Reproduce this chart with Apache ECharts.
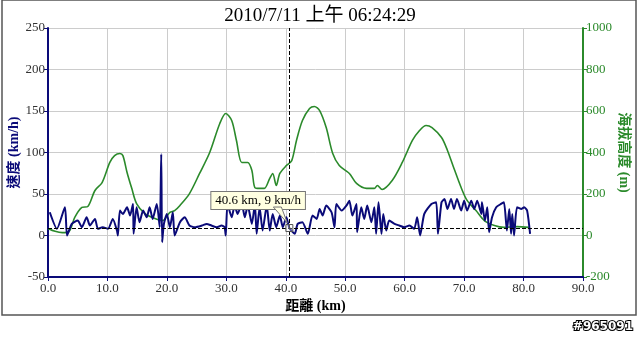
<!DOCTYPE html>
<html>
<head>
<meta charset="utf-8">
<script src="https://cdn.jsdelivr.net/npm/echarts@6/dist/echarts.min.js"></script>
<style>
    html, body { margin: 0; padding: 0; background: #fff; }
    #chart { width: 640px; height: 338px; }
</style>
</head>
<body>
<div id="chart"></div>
<script>
// 距離 (km) / 速度 (km/h)
var speedKm = [0.3, 1.5, 2.85, 3.2, 4.0, 5.0, 5.7, 6.5, 7.05, 7.9, 8.4, 9.2, 10.1, 10.9, 11.6, 11.75, 12.1, 12.6, 13.3, 13.8,
    14.3, 14.4, 14.9, 15.4, 16.0, 16.6, 17.1, 17.6, 18.3, 18.8, 19.05, 19.2, 19.5, 20.0, 20.5, 21.0, 21.3, 22.2, 23.0, 23.8,
    24.7, 25.9, 26.7, 27.5, 28.4, 29.2, 29.7, 29.9, 30.2, 30.9, 31.4, 31.9, 32.6, 33.1, 33.6, 34.3, 34.8, 35.1, 35.6, 36.1,
    36.8, 37.3, 37.8, 38.4, 39.0, 39.5, 40.1, 40.6, 41.5, 42.0, 42.8, 43.7, 44.5, 45.2, 45.7, 46.2, 46.8, 47.7, 48.2, 48.5,
    49.4, 50.2, 50.7, 51.2, 51.9, 52.0, 52.7, 53.2, 53.7, 54.4, 54.9, 55.2, 55.6, 56.1, 56.4, 56.9, 57.4, 58.3, 59.1, 59.9,
    60.8, 61.6, 62.1, 62.6, 63.3, 64.5, 65.3, 65.6, 66.2, 66.7, 67.2, 67.8, 68.3, 68.8, 69.5, 70.0, 70.5, 71.2, 71.7, 72.2,
    72.9, 73.0, 73.5, 73.9, 74.2, 74.7, 75.4, 76.2, 76.7, 77.2, 77.6, 77.9, 78.1, 78.4, 78.9, 79.6, 80.1, 80.6, 81.1];
var speedVal = [28, 8, 34, 0, 14, 18, 10, 22, 12, 20, 8, 10, 8, 20, 6, 0, 30, 26, 34, 24,
    38, 2, 34, 16, 30, 22, 34, 20, 38, 10, 98, -8, 14, 26, 10, 28, 0, 16, 22, 12,
    10, 12, 14, 12, 10, 12, 10, 0, 38, 22, 36, 26, 38, 22, 36, 14, 38, 2, 34, 6,
    36, 6, 26, 10, 24, 10, 22, 9, 2, 14, 16, 2, 24, 20, 32, 24, 36, 28, 10, 38,
    30, 36, 42, 24, 38, 4, 34, 20, 36, 16, 34, 2, 40, 2, 26, 6, 18, 14, 12, 10,
    12, 8, 22, 0, 26, 38, 40, 2, 40, 44, 32, 44, 32, 44, 30, 42, 30, 42, 32, 42,
    26, 40, 18, 34, 4, 22, 34, 38, 40, 6, 32, 2, 26, 0, 34, 32, 34, 30, 2];

// 距離 (km) / 海拔高度 (m)
var elevKm = [0.0, 1.2, 2.4, 3.5, 4.5, 5.7, 6.7, 7.9, 9.1, 10.4, 11.2, 12.1, 12.6, 13.3, 14.1, 14.9, 16.3, 18.0, 19.3, 20.5,
    21.3, 22.2, 23.8, 25.5, 27.2, 28.9, 29.9, 30.9, 31.7, 32.6, 33.6, 34.3, 34.8, 35.6, 36.4, 37.3, 37.8, 38.4, 39.0, 40.1,
    41.0, 41.8, 42.8, 44.0, 44.8, 45.7, 46.8, 47.9, 49.0, 50.7, 51.9, 53.6, 54.9, 55.4, 56.2, 57.9, 59.6, 61.3, 62.5, 63.6,
    64.6, 66.2, 67.2, 68.3, 69.5, 70.5, 72.0, 73.4, 75.1, 76.7, 78.9, 80.9];
var elevVal = [34, 20, 14, 18, 87, 135, 140, 217, 255, 352, 385, 395, 385, 304, 226, 154, 106, 82, 72, 111,
    120, 145, 202, 299, 400, 540, 588, 554, 458, 352, 352, 313, 231, 227, 227, 275, 299, 241, 299, 337,
    361, 458, 554, 612, 622, 602, 520, 395, 337, 299, 251, 227, 227, 241, 222, 265, 352, 458, 506, 530,
    520, 472, 410, 323, 231, 169, 120, 72, 48, 39, 43, 39];

var cursorKm = 40.6;
var cursorSpeed = 9;
var titleText = '2010/7/11 上午 06:24:29';

function zip(xs, ys) {
    var out = [];
    for (var i = 0; i < xs.length; i++) {
        out.push([xs[i], ys[i]]);
    }
    return out;
}

var serif = '"Liberation Serif", "DejaVu Serif", "Noto Sans CJK TC", serif';
var navy = '#0a0a78';
var green = '#2b8a2b';

var myChart = echarts.init(document.getElementById('chart'));
var option = {
    animation: false,
    backgroundColor: '#fff',
    title: {
        text: titleText,
        left: 'center',
        top: 2,
        textStyle: { fontFamily: serif, fontSize: 19, fontWeight: 'normal', color: '#000' }
    },
    grid: { left: 48, right: 57, top: 28, bottom: 61, containLabel: false, outerBoundsMode: 'none' },
    xAxis: {
        type: 'value',
        min: 0,
        max: 90,
        interval: 10,
        name: '距離 (km)',
        nameLocation: 'middle',
        nameGap: 22,
        nameMoveOverlap: false,
        nameTextStyle: { fontFamily: serif, fontSize: 14, fontWeight: 'bold', color: '#000' },
        axisLine: { onZero: false, lineStyle: { color: navy, width: 2 } },
        axisTick: { show: true, length: 4, lineStyle: { color: navy } },
        axisLabel: {
            fontFamily: serif, fontSize: 13, color: '#333', margin: 5,
            formatter: function (v) { return v.toFixed(1); }
        },
        splitLine: { show: true, lineStyle: { color: '#cccccc' } }
    },
    yAxis: [
        {
            type: 'value',
            min: -50,
            max: 250,
            interval: 50,
            name: '速度 (km/h)',
            nameLocation: 'middle',
            nameGap: 27,
            nameRotate: 90,
            nameMoveOverlap: false,
            nameTextStyle: { fontFamily: serif, fontSize: 14, fontWeight: 'bold', color: navy },
            axisLine: { show: true, onZero: false, lineStyle: { color: navy, width: 2 } },
            axisTick: { show: true, length: 4, lineStyle: { color: navy } },
            axisLabel: { fontFamily: serif, fontSize: 13, color: '#333', margin: 3 },
            splitLine: { show: true, lineStyle: { color: '#cccccc' } }
        },
        {
            type: 'value',
            min: -200,
            max: 1000,
            interval: 200,
            position: 'right',
            name: '海拔高度 (m)',
            nameLocation: 'middle',
            nameGap: 34,
            nameRotate: -90,
            nameMoveOverlap: false,
            nameTextStyle: { fontFamily: serif, fontSize: 14, fontWeight: 'bold', color: green },
            axisLine: { show: true, onZero: false, lineStyle: { color: green, width: 2 } },
            axisTick: { show: true, length: 4, lineStyle: { color: green } },
            axisLabel: {
                fontFamily: serif, fontSize: 13, color: green, margin: 3,
                formatter: function (v) { return String(v); }
            },
            splitLine: { show: false }
        }
    ],
    series: [
        {
            name: '海拔高度',
            type: 'line',
            yAxisIndex: 1,
            data: zip(elevKm, elevVal),
            smooth: 0.3,
            showSymbol: false,
            lineStyle: { color: green, width: 1.6 },
            z: 2
        },
        {
            name: '速度',
            type: 'line',
            yAxisIndex: 0,
            data: zip(speedKm, speedVal),
            smooth: 0.2,
            showSymbol: false,
            lineStyle: { color: navy, width: 2 },
            z: 3,
            markLine: {
                silent: true,
                symbol: 'none',
                label: { show: false },
                lineStyle: { color: '#000', type: 'dashed', width: 1 },
                data: [{ xAxis: cursorKm }, { yAxis: cursorSpeed }]
            },
            markPoint: {
                silent: true,
                symbol: 'rect',
                symbolSize: 7,
                itemStyle: { color: 'rgba(255,255,255,0.3)', borderColor: '#555', borderWidth: 1 },
                label: {
                    show: true,
                    position: [-74, -32],
                    formatter: cursorKm + ' km, ' + cursorSpeed + ' km/h',
                    fontFamily: serif,
                    fontSize: 13,
                    color: '#000',
                    backgroundColor: '#ffffe1',
                    borderColor: '#777',
                    borderWidth: 1,
                    padding: [2, 4]
                },
                data: [{ coord: [cursorKm, cursorSpeed] }]
            }
        }
    ],
    graphic: [
        {
            id: 'frame',
            type: 'rect',
            shape: { x: 2, y: 0, width: 634, height: 315 },
            style: { fill: 'none', stroke: '#555', lineWidth: 1.5 },
            silent: true
        },
        {
            id: 'stamp',
            type: 'text',
            right: 6,
            bottom: 4,
            style: {
                text: '#965091',
                fontFamily: '"DejaVu Sans", sans-serif',
                fontSize: 12,
                fontWeight: 'bold',
                fill: '#fff',
                stroke: '#000',
                lineWidth: 2
            },
            silent: true
        }
    ]
};
myChart.setOption(option);

// 提示框的小尾巴
var pt = myChart.convertToPixel({ xAxisIndex: 0, yAxisIndex: 0 }, [cursorKm, cursorSpeed]);
myChart.setOption({
    graphic: [{
        id: 'tail',
        type: 'polygon',
        shape: { points: [[pt[0] - 16, pt[1] - 21], [pt[0] - 8, pt[1] - 21], [pt[0] - 2, pt[1] - 5]] },
        style: { fill: '#ffffe1', stroke: '#777', lineWidth: 1 },
        z: 100,
        silent: true
    }]
});
</script>
</body>
</html>
